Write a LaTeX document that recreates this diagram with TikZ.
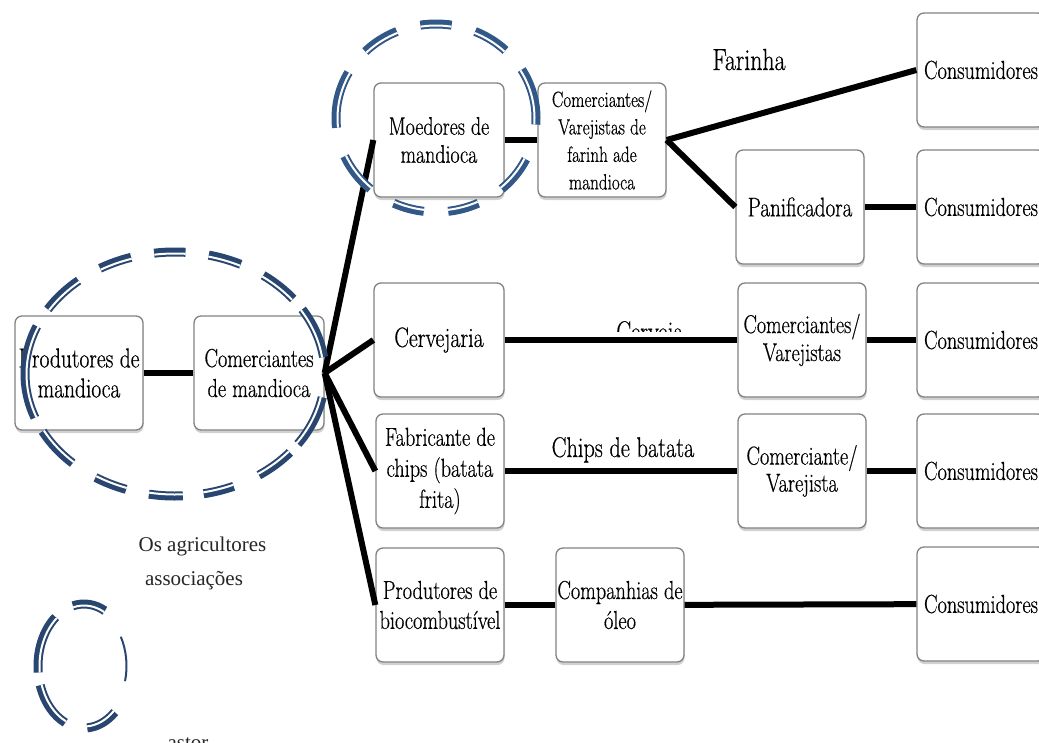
\documentclass[tikz,border=0pt]{standalone}
\usepackage{fontspec}
\setmainfont{Latin Modern Roman}[FakeStretch=0.78,FakeBold=0.5]
\newfontfamily\timesf{Liberation Serif}
\usetikzlibrary{shadows}
\definecolor{ringA}{RGB}{40,70,112}
\definecolor{ringB}{RGB}{50,88,136}
\definecolor{boxline}{RGB}{130,130,130}
% one dash of a ring: colour, cx, cy, rx, ry, start angle, end angle
\newcommand{\ringdash}[7]{%
  \pgfmathsetmacro{\rxi}{#4-1.5}\pgfmathsetmacro{\ryi}{#5-1.5}%
  \draw[#1,line width=9pt] (#2,#3) ++(#6:#4pt and #5pt) arc[start angle=#6,end angle=#7,x radius=#4pt,y radius=#5pt];
  \draw[white,line width=2pt] (#2,#3) ++(#6:\rxi pt and \ryi pt) arc[start angle=#6,end angle=#7,x radius=\rxi pt,y radius=\ryi pt];
}
% thin dash only
\newcommand{\ringthin}[7]{%
  \pgfmathsetmacro{\rxi}{#4-3.5}\pgfmathsetmacro{\ryi}{#5-3.5}%
  \draw[#1,line width=2pt] (#2,#3) ++(#6:\rxi pt and \ryi pt) arc[start angle=#6,end angle=#7,x radius=\rxi pt,y radius=\ryi pt];
}
\tikzset{
  box/.style={draw=boxline, line width=1.3pt, fill=white, rounded corners=7pt,
    minimum width=128pt, minimum height=114pt, align=center, inner sep=0pt,
    font=\fontsize{26}{30}\selectfont,
    drop shadow={shadow xshift=0.5pt, shadow yshift=-3pt, opacity=0.3, fill=black!60}},
  conn/.style={line width=6pt, black, line join=round},
  lbl/.style={font=\fontsize{28.5}{32}\selectfont, inner sep=0pt, anchor=base},
  tlbl/.style={font=\timesf\fontsize{21}{24}\selectfont, inner sep=0pt, anchor=base, text=black!85}
}
\begin{document}
\begin{tikzpicture}[x=1pt,y=-1pt]
\useasboundingbox (0,0) rectangle (1039,742);
\clip (0,0) rectangle (1039,742);

\node[box, font=\fontsize{27.5}{30}\selectfont] (prod) at (79,373) {Produtores de\\mandioca};
\node[box, minimum width=130pt] (comm) at (259,373) {Comerciantes\\de mandioca};
\node[box, minimum width=130pt, font=\fontsize{25.5}{28}\selectfont] (moed) at (439,140) {Moedores de\\mandioca};
\node[box, font=\fontsize{22}{27.5}\selectfont] (cvf) at (602,140) {Comerciantes/\\Varejistas de\\farinh ade\\mandioca};
\node[box] (cons1) at (981,70) {Consumidores};
\node[box, font=\fontsize{27}{30}\selectfont] (pan) at (800,207) {Panificadora};
\node[box] (cons2) at (981,207) {Consumidores};
\node[box, minimum width=130pt, font=\fontsize{28}{30}\selectfont] (cerv) at (439,340) {Cervejaria};
\node[box, font=\fontsize{25.7}{28}\selectfont] (cv2) at (802,340) {Comerciantes/\\Varejistas};
\node[box] (cons3) at (981,340) {Consumidores};
\node[box, font=\fontsize{26}{31}\selectfont] (fab) at (440,471) {Fabricante de\\chips (batata\\frita)};
\node[box, font=\fontsize{26}{27}\selectfont] (cv3) at (802,471) {Comerciante/\\Varejista};
\node[box] (cons4) at (981,471) {Consumidores};
\node[box] (bio) at (440,605) {Produtores de\\biocombustível};
\node[box] (cia) at (620,605) {Companhias de\\óleo};
\node[box] (cons5) at (981,604) {Consumidores};

\draw[conn] (prod) -- (comm);
\draw[conn] (comm.east) -- (moed.west);
\draw[conn] (comm.east) -- (cerv.west);
\draw[conn] (comm.east) -- (fab.west);
\draw[conn] (comm.east) -- (bio.west);
\draw[conn] (moed) -- (cvf);
\draw[conn] (cvf.east) -- (cons1.west);
\draw[conn] (cvf.east) -- (pan.west);
\draw[conn] (pan) -- (cons2);
\draw[conn] (cerv) -- (cv2);
\draw[conn] (cv2) -- (cons3);
\draw[conn] (fab) -- (cv3);
\draw[conn] (cv3) -- (cons4);
\draw[conn] (bio) -- (cia);
\draw[conn] (cia) -- (cons5);

\node[lbl, font=\fontsize{30.5}{32}\selectfont] (farinha) at (749,70) {Farinha};
\node[lbl] (chips) at (623,457) {Chips de batata};
\begin{scope}
  \clip (590,300) rectangle (710,331);
  \node[lbl] (cerveja) at (650,341) {Cerveja};
\end{scope}

\node[tlbl] (agr) at (202.5,551) {Os agricultores};
\node[tlbl] (assoc) at (194,585) {associações};
\node[tlbl] (astor) at (188,749) {astor};

% ring round producers and traders
\foreach \a/\b in {8/32,38/54,64/77,86/98,107/120,130/148,157/201,208/227,238/251,260/273,281/293,304/320,325/349}
  {\ringdash{ringA}{175}{374}{150}{122}{\a}{\b}}
% ring round millers
\foreach \a/\b in {-4/31,46/67,81/99,113/135,151/186,204/229,245/263,277/295,311/334}
  {\ringdash{ringB}{436}{118}{100}{94}{\a}{\b}}
% small ring bottom left
\foreach \a/\b in {63/104,128/186,198/246,274/312}
  {\ringdash{ringA}{84}{666}{46}{62}{\a}{\b}}
\ringthin{ringA}{84}{666}{46}{62}{-15}{30}
\end{tikzpicture}
\end{document}
